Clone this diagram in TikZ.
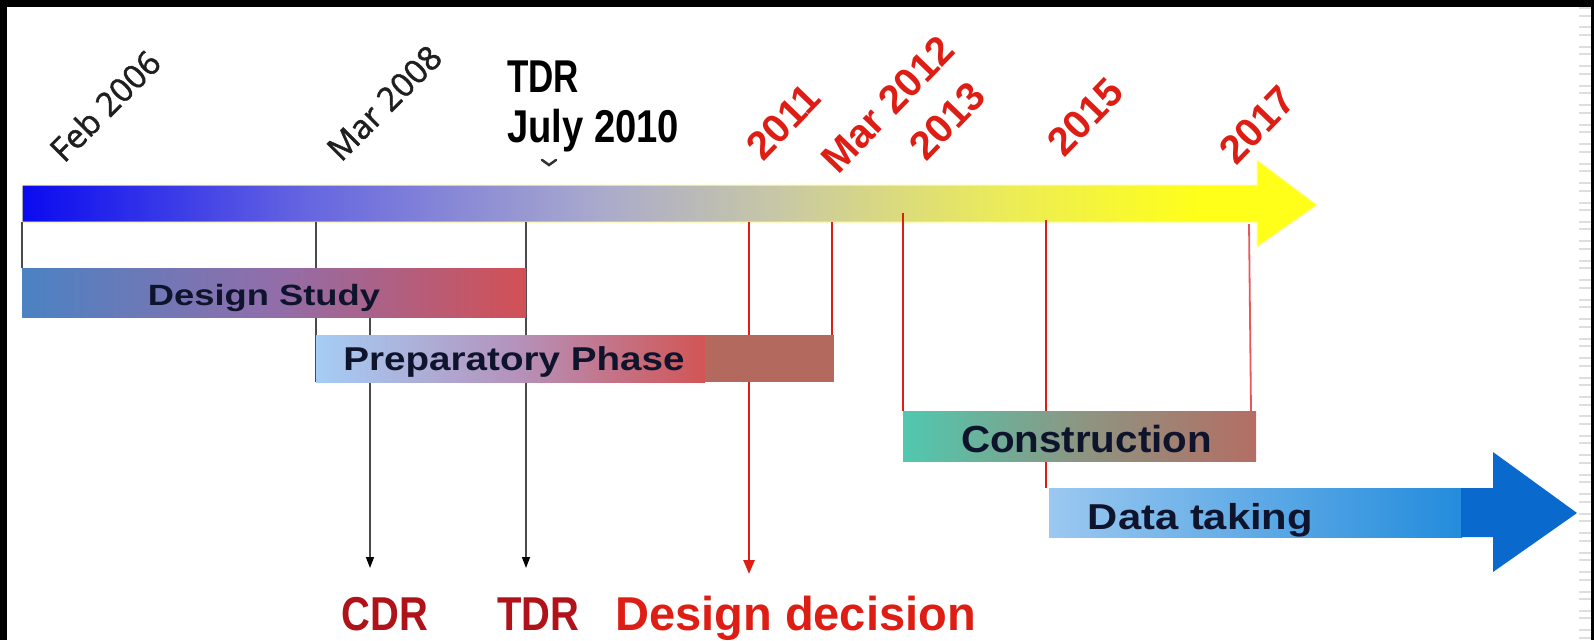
\documentclass[tikz,border=0pt]{standalone}
\usepackage{fontspec}
\setmainfont{Liberation Sans}
\newfontfamily\osans[BoldFont={Open Sans}, BoldFeatures={FakeBold=1.5}]{Open Sans}
\usetikzlibrary{arrows.meta,calc}
\pgfdeclarelayer{back}
\pgfdeclarelayer{bg}
\pgfsetlayers{back,bg,main}
\definecolor{bA}{RGB}{10,10,240}
\definecolor{bB}{RGB}{100,100,225}
\definecolor{bC}{RGB}{170,170,205}
\definecolor{bD}{RGB}{200,200,165}
\definecolor{bE}{RGB}{235,235,90}
\definecolor{bF}{RGB}{255,255,25}
\definecolor{dsL}{RGB}{75,130,195}
\definecolor{dsM}{RGB}{145,110,170}
\definecolor{dsR}{RGB}{210,80,85}
\definecolor{ppL}{RGB}{165,205,245}
\definecolor{ppM}{RGB}{180,148,190}
\definecolor{ppR}{RGB}{210,85,85}
\definecolor{ppX}{RGB}{180,105,95}
\definecolor{coL}{RGB}{80,200,175}
\definecolor{coM}{RGB}{140,150,130}
\definecolor{coR}{RGB}{180,110,100}
\definecolor{dtL}{RGB}{155,200,240}
\definecolor{dtR}{RGB}{35,140,220}
\definecolor{dtD}{RGB}{10,105,205}
\definecolor{mred}{RGB}{222,30,20}
\definecolor{lred}{RGB}{228,90,90}
\definecolor{dred}{RGB}{175,18,25}
\definecolor{navy}{RGB}{15,20,45}
\definecolor{lgray}{RGB}{75,75,75}
\definecolor{tickc}{RGB}{222,222,222}
\tikzset{
  boxst/.style={rectangle, inner sep=0pt, outer sep=0pt, draw=none},
  btxt/.style={anchor=base, inner sep=0pt, text=navy},
  blk/.style={draw=lgray, line width=1.4pt},
  redln/.style={draw=mred, line width=2.6pt},
  datelbl/.style={anchor=base west, inner sep=0pt, rotate=45, font=\osans\bfseries\fontsize{33}{35}\selectfont, text=black!88},
  reddate/.style={anchor=base west, inner sep=0pt, rotate=46, font=\bfseries\fontsize{40}{42}\selectfont, text=mred},
  toplbl/.style={anchor=base west, inner sep=0pt, font=\bfseries\fontsize{46}{48}\selectfont},
  btip/.style={-{Triangle[length=11pt,width=8pt,color=black]}},
  rtip/.style={-{Triangle[length=14pt,width=11pt]}}
}
\begin{document}
\begin{tikzpicture}[x=1pt,y=-1pt]
\useasboundingbox (0,0) rectangle (1594,640);
\begin{pgfonlayer}{back}
  \fill[black] (0,0) rectangle (1594,640);
  \fill[white] (7,7) rectangle (1591,640);
  \foreach \k in {0,...,32}{
    \fill[tickc] (1579,{7+19.45*\k}) rectangle (1591,{9+19.45*\k});
    \fill[tickc] (1579,{14.5+19.45*\k}) rectangle (1591,{16.5+19.45*\k});
  }
  % main time arrow
  \begin{scope}
    \clip (22,185) -- (1257,185) -- (1257,160) -- (1317,205) -- (1257,247) -- (1257,222) -- (22,222) -- cycle;
    \shade[left color=bA, right color=bB] (22,150) rectangle (301,250);
    \shade[left color=bB, right color=bC] (300,150) rectangle (601,250);
    \shade[left color=bC, right color=bD] (600,150) rectangle (781,250);
    \shade[left color=bD, right color=bE] (780,150) rectangle (1001,250);
    \shade[left color=bE, right color=bF] (1000,150) rectangle (1201,250);
    \fill[bF] (1200,150) rectangle (1320,250);
  \end{scope}
  \draw[yellow!35!white, line width=1pt] (22,185) -- (1257,185) -- (1257,160) -- (1317,205) -- (1257,247) -- (1257,222) -- (22,222) -- cycle;
  % small chevron under the TDR label
  \draw[black!80, line width=2.5pt, line cap=round] (542,160) -- (549,165) -- (556,160);
\end{pgfonlayer}

% coordinates on the time arrow
\coordinate (b06) at (22,222);
\coordinate (b08) at (316,222);
\coordinate (b10) at (526,222);
\coordinate (b11) at (749,222);
\coordinate (b12) at (832,222);
\coordinate (b13) at (903,213);
\coordinate (b15) at (1046,220);
\coordinate (b17) at (1249,224);
\coordinate (cdrend) at (370,568);
\coordinate (tdrend) at (526,568);
\coordinate (ddend) at (749,574);

% date labels
\node[datelbl] (l06) at (64,164) {Feb 2006};
\node[datelbl] (l08) at (341,163) {Mar 2008};
\node[toplbl] (ltdr) at (507,92) {\scalebox{0.76}[1]{TDR}};
\node[toplbl] (ljul) at (507,142) {\scalebox{0.83}[1]{July 2010}};
\node[reddate] (l11) at (763,163) {2011};
\node[reddate] (l12) at (838,176) {Mar 2012};
\node[reddate] (l13) at (926,163) {2013};
\node[reddate] (l15) at (1064,159) {2015};
\node[reddate] (l17) at (1236,167) {2017};

% phase boxes
\node[boxst, minimum width=504, minimum height=49, left color=dsL, right color=dsR, middle color=dsM] (ds) at (274,292.5) {};
\node[boxst, minimum width=389, minimum height=47, left color=ppL, right color=ppR, middle color=ppM] (pp) at (510.5,358.5) {};
\node[boxst, minimum width=129, minimum height=47, fill=ppX] (px) at (769.5,358.5) {};
\node[boxst, minimum width=353, minimum height=50, left color=coL, right color=coR, middle color=coM] (con) at (1079.5,436) {};
\node[boxst, minimum width=413, minimum height=49, left color=dtL, right color=dtR] (dt) at (1255.5,512.5) {};
\fill[dtD] (1461,488) -- (1493,488) -- (1493,452) -- (1577,513) -- (1493,572) -- (1493,537) -- (1461,537) -- cycle;

% box texts
\node[btxt, font=\bfseries\fontsize{29.3}{32}\selectfont] (dst) at (264,305) {\scalebox{1.24}[1]{Design Study}};
\node[btxt, font=\bfseries\fontsize{33}{35}\selectfont] (ppt) at (514,370) {\scalebox{1.17}[1]{Preparatory Phase}};
\node[btxt, font=\bfseries\fontsize{37.7}{40}\selectfont] (cot) at (1086.5,452) {\scalebox{1.07}[1]{Construction}};
\node[btxt, font=\bfseries\fontsize{36}{38}\selectfont] (dtt) at (1200.5,529) {\scalebox{1.16}[1]{Data taking}};

% bottom labels
\node[anchor=base, inner sep=0pt, text=dred, font=\bfseries\fontsize{47.5}{50}\selectfont] (cdr) at (385,630) {\scalebox{0.84}[1]{CDR}};
\node[anchor=base, inner sep=0pt, text=dred, font=\bfseries\fontsize{47.5}{50}\selectfont] (tdr) at (538,630) {\scalebox{0.84}[1]{TDR}};
\node[anchor=base west, inner sep=0pt, text=mred, font=\bfseries\fontsize{47.5}{50}\selectfont] (dd) at (615,630) {\scalebox{0.99}[1]{Design decision}};

% connectors (behind the boxes)
\begin{pgfonlayer}{bg}
  \draw[blk] (b06) -- (ds.north west);
  \draw[blk] (b08) -- (pp.south west);
  \draw[blk, btip] (b10) -- (tdrend);
  \draw[blk, btip] (ds.south -| cdrend) -- (cdrend);
  \draw[redln, rtip] (b11) -- (ddend);
  \draw[redln] (b12) -- (b12 |- px.north);
  \draw[redln] (b13) -- (b13 |- con.north);
  \draw[redln] (b15) -- (b15 |- dt.north);
  \draw[draw=lred, line width=1.8pt] (b17) -- ([xshift=-5pt]con.north east);
\end{pgfonlayer}
\end{tikzpicture}
\end{document}
